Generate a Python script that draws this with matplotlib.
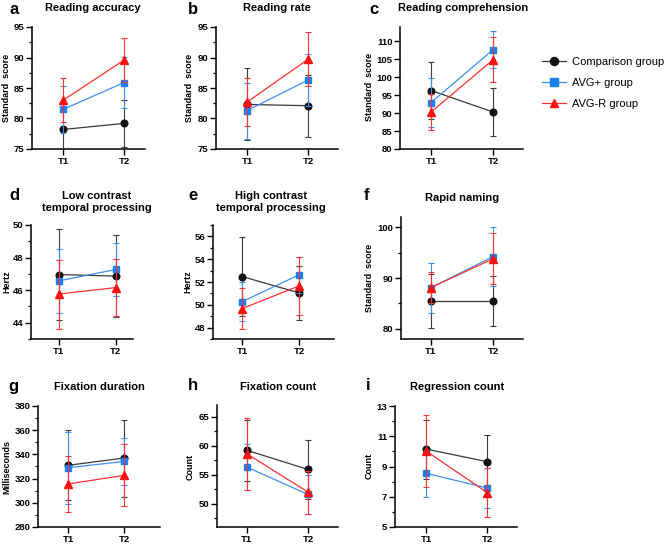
import matplotlib
matplotlib.use("Agg")
import matplotlib.pyplot as plt
from matplotlib.ticker import MultipleLocator, FixedLocator

plt.rcParams['font.family'] = ['Liberation Sans', 'DejaVu Sans']

W, H = 669, 547

# Panel info
letters = ["a", "b", "c", "d", "e", "f", "g", "h", "i"]
titles = ["Reading accuracy", "Reading rate", "Reading comprehension",
          "Low contrast\ntemporal processing", "High contrast\ntemporal processing", "Rapid naming",
          "Fixation duration", "Fixation count", "Regression count"]
ylabels = ["Standard  score", "Standard  score", "Standard  score",
           "Hertz", "Hertz", "Standard  score",
           "Milliseconds", "Count", "Count"]
time_labels = ["T1", "T2"]

# Means (T1, T2) and SD per group
comp_mean = [[78.2, 79.2], [82.3, 82.1], [96.3, 90.3],
             [46.96, 46.86], [52.48, 51.04], [85.4, 85.4],
             [331.0, 337.0], [59.2, 55.9], [10.15, 9.32]]
comp_sd = [[3.6, 3.9], [5.9, 5.1], [7.9, 6.8],
           [2.8, 2.5], [3.5, 2.4], [5.3, 4.9],
           [29.0, 31.8], [5.3, 5.15], [1.95, 1.73]]
avgp_mean = [[81.5, 85.9], [81.3, 86.3], [92.95, 107.7],
             [46.57, 47.27], [50.28, 52.63], [88.1, 94.2],
             [329.0, 334.2], [56.3, 51.6], [8.55, 7.58]]
avgp_sd = [[3.9, 4.2], [4.6, 4.2], [6.8, 5.1],
           [1.95, 1.6], [1.7, 1.6], [4.9, 5.85],
           [29.8, 19.7], [4.0, 3.4], [1.55, 1.3]]
avgr_mean = [[83.0, 89.6], [82.7, 89.7], [90.3, 104.9],
             [45.76, 46.16], [49.67, 51.66], [88.1, 93.8],
             [315.6, 322.7], [58.6, 52.0], [10.02, 7.28]]
avgr_sd = [[3.6, 3.6], [4.0, 4.4], [5.0, 6.2],
           [2.12, 1.76], [1.8, 2.55], [3.1, 5.0],
           [23.3, 25.6], [6.2, 3.7], [2.4, 1.62]]

ylims = [(75, 95), (75, 95), (80, 114), (43, 50), (47, 57), (78, 102),
         (280, 380), (46, 67), (5, 13)]
yticks = [[75, 80, 85, 90, 95], [75, 80, 85, 90, 95], [80, 85, 90, 95, 100, 105, 110],
          [44, 46, 48, 50], [48, 50, 52, 54, 56], [80, 90, 100],
          [280, 300, 320, 340, 360, 380], [50, 55, 60, 65], [5, 7, 9, 11, 13]]
minor = [2.5, 2.5, 5, 1, 1, 5, 10, 2.5, 1]

# pixel boxes: left, top, right, bottom, and xlim
boxes = [(32, 27, 145, 149), (216, 27, 338, 149), (400, 27, 523, 149),
         (31, 225, 133, 339), (213, 225, 334, 339), (401, 217, 523, 339),
         (38, 406, 160, 527), (217, 405, 338, 527), (395, 406, 517, 527)]
xlims = [(0.49, 2.34), (0.49, 2.49), (0.5, 2.48),
         (0.51, 2.30), (0.49, 2.61), (0.52, 2.48),
         (0.46, 2.64), (0.51, 2.49), (0.49, 2.49)]

letter_pos = [(9, 9), (188, 9), (369, 9), (9, 196), (188, 196), (364, 196),
              (8, 386), (188, 386), (366, 386)]
title_pos = [(93, 8), (277, 8), (463, 8), (97, 202), (271, 202), (462, 198),
             (99, 387), (278, 387), (457, 387)]
ylabel_pos = [(7, 88), (189, 88), (370, 87), (7, 282), (188, 282), (370, 278),
              (7, 467), (190, 467), (369, 466)]

groups = [("Comparison group", comp_mean, comp_sd, "#111111", "#3a3a3a", "o", 4.8),
          ("AVG+ group", avgp_mean, avgp_sd, "#1a7ff0", "#3d8ff5", "s", 4.8),
          ("AVG-R group", avgr_mean, avgr_sd, "#ff1010", "#ff3030", "^", 5.2)]

fig = plt.figure(figsize=(W / 100, H / 100), dpi=100)

x = [1, 2]
handles = []
for k in range(9):
    l, t, r, b = boxes[k]
    ax = fig.add_axes([l / W, 1 - b / H, (r - l) / W, (b - t) / H])
    for gi, (name, means, sds, mc, lc, mk, ms) in enumerate(groups):
        ax.errorbar(x, means[k], yerr=sds[k], color=lc, ecolor=lc,
                    elinewidth=0.8, capsize=2, capthick=0.8, lw=0.9,
                    marker=mk, ms=ms, mfc=mc, mec=mc, zorder=3 + gi)
        if k == 0:
            h, = ax.plot([], [], color=lc, lw=0.9, marker=mk, ms=ms + 1, mfc=mc, mec=mc)
            handles.append((h, name))
    ax.set_xlim(*xlims[k])
    ax.set_ylim(*ylims[k])
    ax.set_xticks(x)
    ax.set_xticklabels(time_labels)
    ax.yaxis.set_major_locator(FixedLocator(yticks[k]))
    ax.yaxis.set_minor_locator(MultipleLocator(minor[k]))
    for s in ["top", "right"]:
        ax.spines[s].set_visible(False)
    for s in ["left", "bottom"]:
        ax.spines[s].set_linewidth(1.1)
    ax.tick_params(axis="both", which="major", direction="out", length=4, width=1.0,
                   labelsize=6.8, pad=1.5)
    ax.tick_params(axis="y", which="minor", direction="out", length=2.5, width=0.9)
    for lab in ax.get_xticklabels() + ax.get_yticklabels():
        lab.set_fontweight("bold")

    fig.text(letter_pos[k][0] / W, 1 - letter_pos[k][1] / H, letters[k],
             fontsize=12, fontweight="bold", ha="left", va="center")
    fig.text(title_pos[k][0] / W, 1 - title_pos[k][1] / H, titles[k],
             fontsize=8, fontweight="bold", ha="center", va="center", linespacing=1.3)
    fig.text(ylabel_pos[k][0] / W, 1 - ylabel_pos[k][1] / H, ylabels[k],
             fontsize=6.5, fontweight="bold", ha="center", va="center", rotation=90)

fig.legend([h for h, _ in handles], [n for _, n in handles],
           loc="upper left", bbox_to_anchor=(542 / W, 1 - 57 / H), frameon=False,
           borderpad=0, borderaxespad=0,
           fontsize=8, handlelength=2.2, labelspacing=1.0, handletextpad=0.5)

fig.savefig("out.png", dpi=100)
